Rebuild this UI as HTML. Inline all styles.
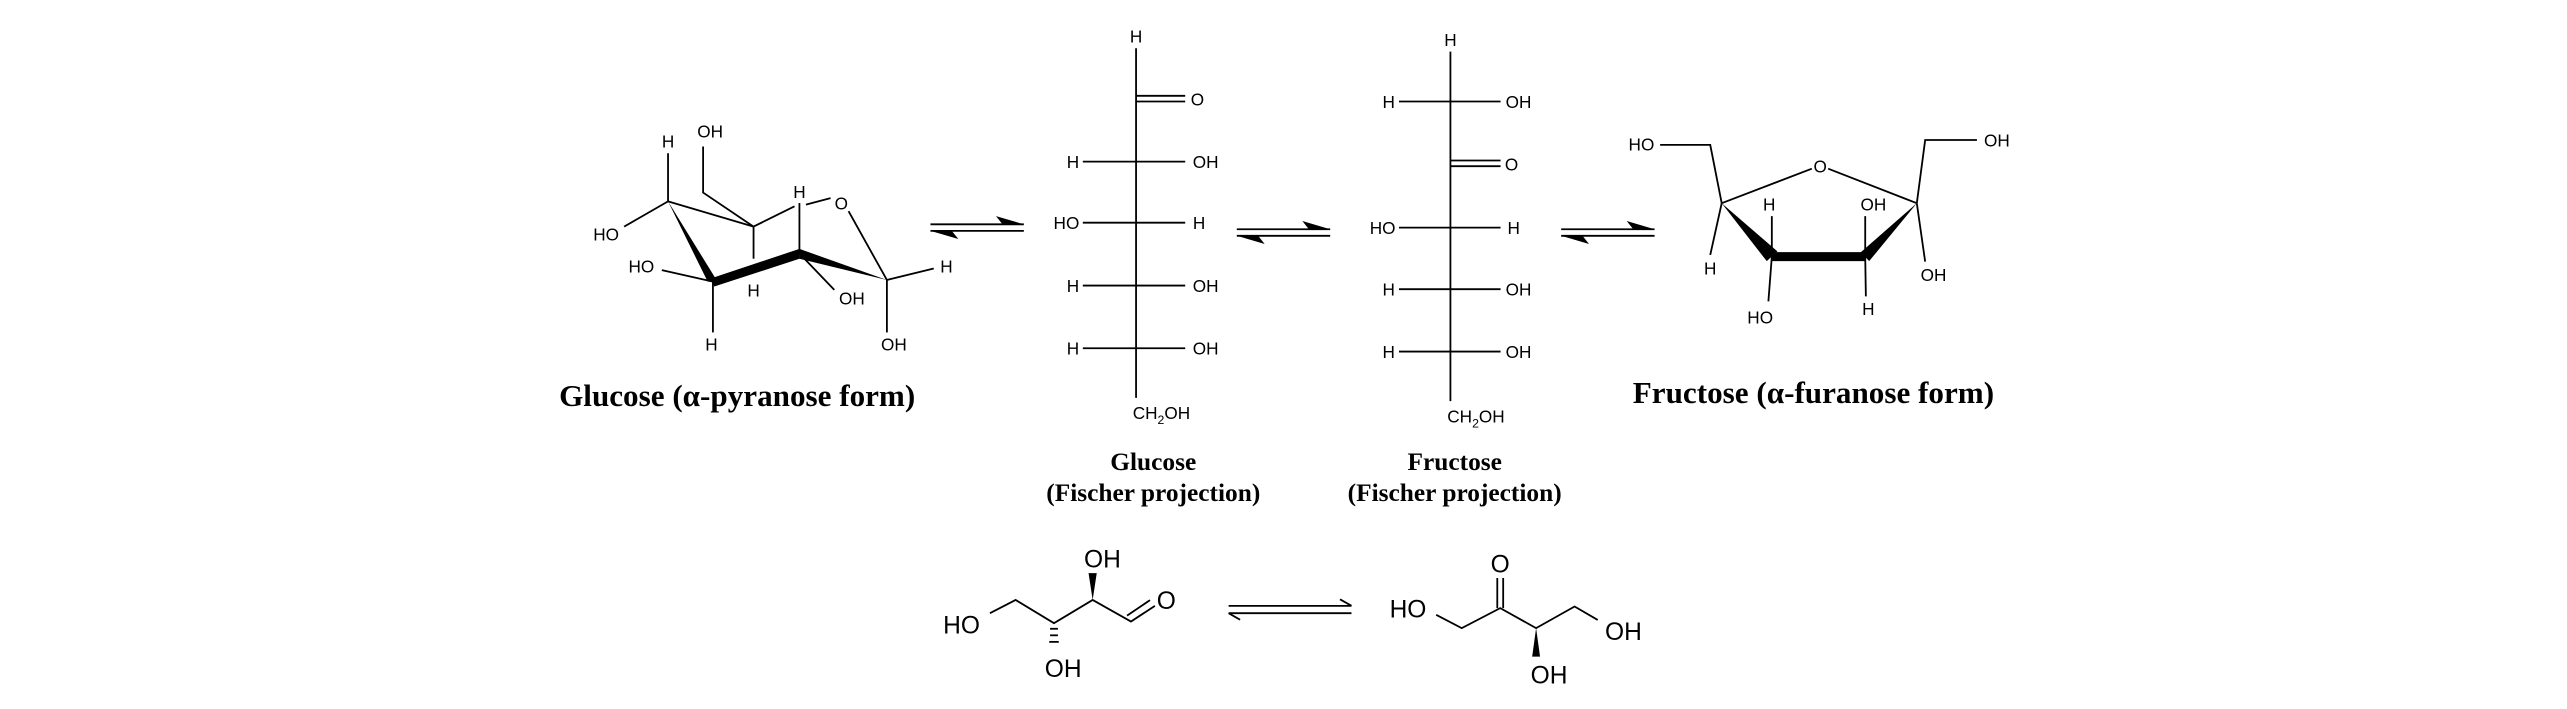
<!DOCTYPE html>
<html><head><meta charset="utf-8"><style>
html,body{margin:0;padding:0;background:#fff;}
svg{display:block;}
.a{font-family:"Liberation Sans",sans-serif;font-size:10.5px;fill:#000;}
.b{font-family:"Liberation Sans",sans-serif;font-size:15px;fill:#000;}
.t{font-family:"Liberation Serif",serif;font-size:15.5px;font-weight:bold;fill:#000;}
.T{font-family:"Liberation Serif",serif;font-size:19px;font-weight:bold;fill:#000;}
line,polyline{stroke:#000;stroke-width:1.1;fill:none;}
</style></head><body>
<svg width="2567" height="709" viewBox="0 0 1567 433" preserveAspectRatio="none" xmlns="http://www.w3.org/2000/svg">
<defs>
<g id="eq">
<line x1="0" y1="0" x2="57" y2="0" stroke-width="1.6"/>
<polygon points="57,0 40,-5 44,0" fill="#000"/>
<line x1="0" y1="4" x2="57" y2="4" stroke-width="1.6"/>
<polygon points="0,4 17,9 13,4" fill="#000"/>
</g>
</defs>

<!-- Glucose pyranose -->
<line x1="407.8" y1="123" x2="460" y2="138.4"/>
<polygon points="407.8,123 432,172 438,172" fill="#000"/>
<polygon points="434,170 488,152 488,158 436,175" fill="#000"/>
<polygon points="488,152 541.4,171 488,158" fill="#000"/>
<line x1="541.4" y1="171" x2="518" y2="129"/>
<line x1="460" y1="138.4" x2="485" y2="126"/>
<line x1="492" y1="125" x2="507" y2="121"/>
<line x1="488" y1="124" x2="488" y2="155"/>
<text class="a" x="488" y="121" text-anchor="middle">H</text>
<text class="a" x="513.6" y="128" text-anchor="middle">O</text>
<line x1="541.4" y1="171" x2="570" y2="164"/>
<text class="a" x="577.8" y="166.5" text-anchor="middle">H</text>
<line x1="541.4" y1="171" x2="541.4" y2="203"/>
<text class="a" x="545.7" y="214" text-anchor="middle">OH</text>
<line x1="435.2" y1="172" x2="435.2" y2="203"/>
<text class="a" x="434.3" y="214" text-anchor="middle">H</text>
<line x1="435.2" y1="172" x2="404" y2="165"/>
<text class="a" x="391.5" y="166.5" text-anchor="middle">HO</text>
<line x1="487.9" y1="154.7" x2="509.3" y2="177"/>
<text class="a" x="520" y="186" text-anchor="middle">OH</text>
<line x1="460" y1="138.4" x2="460" y2="158"/>
<text class="a" x="460" y="181" text-anchor="middle">H</text>
<line x1="407.8" y1="123" x2="407.8" y2="93.6"/>
<text class="a" x="407.8" y="90" text-anchor="middle">H</text>
<polyline points="460,138.4 429.2,117.6 429.2,89.5"/>
<text class="a" x="433.5" y="84" text-anchor="middle">OH</text>
<line x1="407.8" y1="123" x2="381" y2="138.4"/>
<text class="a" x="370" y="147" text-anchor="middle">HO</text>
<text class="T" x="450" y="248" text-anchor="middle">Glucose (α-pyranose form)</text>

<use href="#eq" x="568" y="137"/>

<!-- Glucose Fischer -->
<line x1="693.5" y1="29.5" x2="693.5" y2="243"/>
<text class="a" x="693.5" y="26" text-anchor="middle">H</text>
<line x1="693.5" y1="58.5" x2="723.5" y2="58.5"/>
<line x1="693.5" y1="62" x2="723.5" y2="62"/>
<text class="a" x="731" y="64.5" text-anchor="middle">O</text>
<line x1="661" y1="98.7" x2="723.5" y2="98.7"/>
<text class="a" x="655" y="102.5" text-anchor="middle">H</text><text class="a" x="736" y="102.5" text-anchor="middle">OH</text>
<line x1="661" y1="136" x2="723.5" y2="136" stroke-width="1.6"/>
<text class="a" x="651" y="140" text-anchor="middle">HO</text><text class="a" x="732" y="140" text-anchor="middle">H</text>
<line x1="661" y1="174.4" x2="723.5" y2="174.4"/>
<text class="a" x="655" y="178.2" text-anchor="middle">H</text><text class="a" x="736" y="178.2" text-anchor="middle">OH</text>
<line x1="661" y1="212.7" x2="723.5" y2="212.7"/>
<text class="a" x="655" y="216.5" text-anchor="middle">H</text><text class="a" x="736" y="216.5" text-anchor="middle">OH</text>
<text class="a" x="709" y="256" text-anchor="middle">CH<tspan font-size="7.5" dy="3">2</tspan><tspan dy="-3">OH</tspan></text>
<text class="t" x="704" y="287" text-anchor="middle">Glucose</text>
<text class="t" x="704" y="306" text-anchor="middle">(Fischer projection)</text>

<use href="#eq" x="755" y="140"/>

<!-- Fructose Fischer -->
<line x1="885.4" y1="31.5" x2="885.4" y2="245"/>
<text class="a" x="885.4" y="28" text-anchor="middle">H</text>
<line x1="854" y1="62" x2="916" y2="62"/>
<text class="a" x="847.7" y="66" text-anchor="middle">H</text><text class="a" x="927" y="66" text-anchor="middle">OH</text>
<line x1="885.4" y1="98" x2="916" y2="98"/>
<line x1="885.4" y1="101.5" x2="916" y2="101.5"/>
<text class="a" x="922.7" y="104" text-anchor="middle">O</text>
<line x1="854" y1="139" x2="916" y2="139"/>
<text class="a" x="844" y="143" text-anchor="middle">HO</text><text class="a" x="924" y="143" text-anchor="middle">H</text>
<line x1="854" y1="176.6" x2="916" y2="176.6"/>
<text class="a" x="847.7" y="180.5" text-anchor="middle">H</text><text class="a" x="927" y="180.5" text-anchor="middle">OH</text>
<line x1="854" y1="214.7" x2="916" y2="214.7" stroke-width="1.6"/>
<text class="a" x="847.7" y="218.5" text-anchor="middle">H</text><text class="a" x="927" y="218.5" text-anchor="middle">OH</text>
<text class="a" x="901" y="258" text-anchor="middle">CH<tspan font-size="7.5" dy="3">2</tspan><tspan dy="-3">OH</tspan></text>
<text class="t" x="888" y="287" text-anchor="middle">Fructose</text>
<text class="t" x="888" y="306" text-anchor="middle">(Fischer projection)</text>

<use href="#eq" x="953" y="140"/>

<!-- Fructofuranose -->
<line x1="1051" y1="124.1" x2="1106" y2="103"/>
<line x1="1116" y1="103" x2="1170.1" y2="124.1"/>
<text class="a" x="1111.1" y="105.5" text-anchor="middle">O</text>
<polygon points="1051,124.1 1085,153.5 1078.5,159.5" fill="#000"/>
<polygon points="1080,154 1139,154 1139,159.5 1082,159.5" fill="#000"/>
<polygon points="1136,154 1170.1,124.1 1141,159.5" fill="#000"/>
<polyline points="1051,124.1 1044,88.5 1013.4,88.5"/>
<text class="a" x="1002" y="92" text-anchor="middle">HO</text>
<polyline points="1170.1,124.1 1175.2,85.5 1206.8,85.5"/>
<text class="a" x="1219" y="89.5" text-anchor="middle">OH</text>
<line x1="1051" y1="124.1" x2="1044" y2="155.7"/>
<text class="a" x="1044" y="167.5" text-anchor="middle">H</text>
<line x1="1081.6" y1="156.7" x2="1081.6" y2="132"/>
<text class="a" x="1080" y="128.5" text-anchor="middle">H</text>
<line x1="1081.6" y1="156.7" x2="1079.5" y2="184"/>
<text class="a" x="1074.5" y="197.5" text-anchor="middle">HO</text>
<line x1="1138.6" y1="156.7" x2="1138.6" y2="132"/>
<text class="a" x="1143.6" y="128.5" text-anchor="middle">OH</text>
<line x1="1138.6" y1="156.7" x2="1139" y2="181"/>
<text class="a" x="1140.5" y="192.5" text-anchor="middle">H</text>
<line x1="1170.1" y1="124.1" x2="1175.2" y2="159.8"/>
<text class="a" x="1180.3" y="171.5" text-anchor="middle">OH</text>
<text class="T" x="1107" y="246" text-anchor="middle">Fructose (α-furanose form)</text>

<!-- Bottom left: erythrose -->
<text class="b" x="587" y="387" text-anchor="middle">HO</text>
<polyline points="604.3,374.5 620,366.4 643.4,380.6 667,366.4 690.4,379.6 705,370"/>
<line x1="688" y1="376" x2="702" y2="366.5"/>
<text class="b" x="712" y="372" text-anchor="middle">O</text>
<polygon points="667,366.4 664.5,350 669.5,350" fill="#000"/>
<text class="b" x="673" y="346.5" text-anchor="middle">OH</text>
<g stroke="#000" stroke-width="1.1">
<line x1="641" y1="384" x2="645.8" y2="384"/>
<line x1="641" y1="388" x2="645.8" y2="388"/>
<line x1="640.5" y1="392" x2="646.3" y2="392"/>
</g>
<text class="b" x="649" y="413.5" text-anchor="middle">OH</text>

<!-- Bottom arrow -->
<line x1="750" y1="370" x2="825" y2="370"/>
<polyline points="818,366 825,370"/>
<line x1="750" y1="374.5" x2="825" y2="374.5"/>
<polyline points="750,374.5 757,378.5"/>

<!-- Bottom right: erythrulose -->
<text class="b" x="859.5" y="377" text-anchor="middle">HO</text>
<polyline points="876.7,375.5 892.3,383.6 915.8,371.4 937.7,383.6 961.2,370.4 975.3,378.6"/>
<line x1="914" y1="371.4" x2="914" y2="353"/>
<line x1="917.6" y1="371.4" x2="917.6" y2="353"/>
<text class="b" x="915.8" y="349.5" text-anchor="middle">O</text>
<polygon points="937.7,383.6 935.3,401 940.1,401" fill="#000"/>
<text class="b" x="945.6" y="417.5" text-anchor="middle">OH</text>
<text class="b" x="991" y="391" text-anchor="middle">OH</text>
</svg>
</body></html>
